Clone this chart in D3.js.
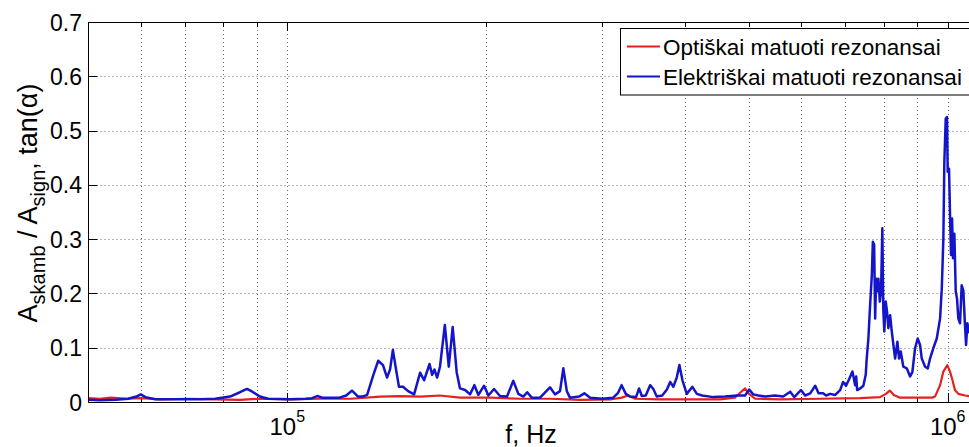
<!DOCTYPE html>
<html>
<head>
<meta charset="utf-8">
<script src="https://cdn.jsdelivr.net/npm/d3@7/dist/d3.min.js"></script>
<style>
  html, body { margin: 0; padding: 0; background: #fff; }
  svg { display: block; }
  text { font-family: "Liberation Sans", Arial, Helvetica, sans-serif; fill: #000; }
</style>
</head>
<body>
<svg id="chart" width="969" height="447"></svg>
<script>
// Optically measured resonances (frequency in kHz, amplitude ratio)
const opticalF = [50, 52, 54.1, 57.2, 59.9, 64.2, 71.2, 77.8, 84.8, 90.9, 101, 112, 124.9, 138.2, 148.2, 158.9,
  170.3, 182.6, 202.8, 225, 250, 277.5, 309.7, 321, 328, 336.3, 366, 406.9, 452.2, 476.2, 486, 493.3, 500.2,
  511.2, 557.4, 641, 737, 790, 806, 817.2, 828.8, 846.9, 907.5, 947, 956.8, 973.8, 985, 998.6, 1008.2,
  1016.4, 1025.6, 1037.7, 1062.4, 1090, 1150];
const opticalV = [0.007, 0.006, 0.008, 0.006, 0.007, 0.005, 0.006, 0.005, 0.004, 0.006, 0.005, 0.006, 0.006,
  0.010, 0.011, 0.010, 0.012, 0.008, 0.008, 0.006, 0.006, 0.004, 0.005, 0.008, 0.012, 0.006, 0.005, 0.005,
  0.005, 0.008, 0.018, 0.025, 0.015, 0.006, 0.005, 0.006, 0.007, 0.009, 0.015, 0.021, 0.013, 0.008, 0.008,
  0.008, 0.010, 0.031, 0.056, 0.068, 0.056, 0.041, 0.022, 0.015, 0.012, 0.010, 0.010];

// Electrically measured resonances (frequency in kHz, tan(alpha))
const electricF = [50, 52, 55, 57.4, 59.1, 60, 61, 63.1, 66.5, 73.8, 77.8, 81.9, 84.8, 86.9, 88.5, 90.9, 93.5,
  101, 106.5, 109, 111, 113, 120, 122.8, 125.3, 128, 130, 132.1, 135, 137.3, 139.6, 141.6, 143.1, 144.5, 146.1,
  147.6, 149.7, 152.4, 155.6, 158.9, 161.1, 164.2, 165.7, 167, 168.6, 170.3, 173.2, 175.6, 178, 180.5, 182.6,
  185.9, 189.1, 192, 194.7, 198.6, 201.6, 205.6, 209.9, 215.1, 219.9, 223.8, 227.7, 230.8, 234.5, 241.4, 249.9,
  254.3, 258.8, 261.8, 265, 267.9, 276.5, 281.7, 287.5, 299.6, 311.5, 316.9, 320.8, 325.5, 330.5, 337.4, 340.9,
  344.2, 349, 354.3, 358.3, 362.6, 369.6, 375.7, 380, 384.2, 388.8, 392.4, 396.6, 402.6, 410.6, 417, 424.7,
  441.3, 460, 479.5, 493.3, 500.6, 507.5, 516.7, 529.4, 547.6, 563.5, 577.5, 585.5, 599.6, 608.3, 619.2, 630.1,
  637.4, 647.6, 654.5, 663.9, 675.6, 687.3, 694.3, 701.5, 709.1, 717.4,
  724.2, 726.8, 729.3, 737, 745.2, 751.4, 754, 758.4, 763, 767.6, 770.3, 773.8, 776.5, 779.2, 782.7,
  785.4, 789.2, 792.7, 796.2, 798.9, 801.7, 805.7, 809.5, 813.2, 818.1, 823, 827.6, 832.5, 839.1, 844,
  848.9, 856.7, 867, 877.1, 884.1, 892.4, 900.6, 908.1, 913.6, 924.2, 933, 940.3, 951, 962.6, 973.8,
  979.6, 985, 988.4, 993.2, 997.6, 1000, 1004.6, 1008.2, 1011.7, 1015.4, 1018.8, 1023.5, 1028.4, 1033.1, 1037.7,
  1043.9, 1050, 1056, 1061.3, 1066.2, 1071, 1077.4, 1090, 1150];
const electricV = [0.004, 0.003, 0.004, 0.006, 0.010, 0.014, 0.009, 0.005, 0.005, 0.005, 0.006, 0.010, 0.018,
  0.024, 0.019, 0.010, 0.006, 0.005, 0.006, 0.007, 0.011, 0.008, 0.008, 0.012, 0.021, 0.010, 0.010, 0.013,
  0.050, 0.076, 0.068, 0.045, 0.060, 0.096, 0.060, 0.028, 0.028, 0.020, 0.014, 0.054, 0.040, 0.070, 0.050,
  0.060, 0.045, 0.065, 0.142, 0.065, 0.138, 0.055, 0.025, 0.022, 0.014, 0.031, 0.013, 0.030, 0.012, 0.024,
  0.011, 0.010, 0.039, 0.015, 0.010, 0.018, 0.008, 0.008, 0.027, 0.014, 0.020, 0.062, 0.020, 0.008, 0.010,
  0.016, 0.008, 0.006, 0.008, 0.017, 0.031, 0.015, 0.010, 0.009, 0.025, 0.011, 0.012, 0.031, 0.024, 0.010,
  0.012, 0.023, 0.037, 0.028, 0.045, 0.068, 0.040, 0.015, 0.028, 0.015, 0.012, 0.009, 0.010, 0.012, 0.012,
  0.023, 0.014, 0.012, 0.010, 0.012, 0.010, 0.019, 0.009, 0.022, 0.012, 0.016, 0.030, 0.016, 0.016, 0.012,
  0.015, 0.013, 0.022, 0.037, 0.030, 0.042, 0.056,
  0.031, 0.047, 0.022, 0.025, 0.030, 0.050, 0.080, 0.117, 0.179, 0.234, 0.295, 0.290, 0.154, 0.227, 0.204,
  0.227, 0.185, 0.204, 0.320, 0.170, 0.130, 0.185, 0.166, 0.136, 0.160, 0.129, 0.105, 0.080, 0.111, 0.080,
  0.093, 0.065, 0.062, 0.047, 0.055, 0.099, 0.117, 0.105, 0.080, 0.065, 0.062, 0.080, 0.099, 0.117, 0.154,
  0.209, 0.301, 0.443, 0.522, 0.525, 0.424, 0.430, 0.344, 0.271, 0.338, 0.265, 0.310, 0.204, 0.190, 0.154,
  0.145, 0.215, 0.205, 0.150, 0.105, 0.145, 0.129, 0.120, 0.120];

const seriesNames = ["Optiškai matuoti rezonansai", "Elektriškai matuoti rezonansai"];
const seriesColors = ["#e3211f", "#1414c8"];
const seriesWidths = [2.2, 2.5];

const yTicks = [0, 0.1, 0.2, 0.3, 0.4, 0.5, 0.6, 0.7];
const yTickLabels = ["0", "0.1", "0.2", "0.3", "0.4", "0.5", "0.6", "0.7"];
const xMajorTicks = [1e5, 1e6];
const xMajorExponents = ["5", "6"];
const xMinorTicks = [6e4, 7e4, 8e4, 9e4, 2e5, 3e5, 4e5, 5e5, 6e5, 7e5, 8e5, 9e5];

const plotLeft = 88.5, plotTop = 22, plotBottom = 402, plotRight = 1010;

const svg = d3.select("#chart");

const x = d3.scaleLog().domain([5e4, 1e6]).range([plotLeft, 947.7]);
const y = d3.scaleLinear().domain([0, 0.7]).range([plotBottom, plotTop]);

// grid (dotted, major and minor x positions)
const grid = svg.append("g").attr("stroke", "#6a6a6a").attr("stroke-width", 1)
  .attr("stroke-dasharray", "1,3").attr("fill", "none");
xMinorTicks.concat(xMajorTicks).forEach(t => {
  const px = Math.round(x(t)) + 0.5;
  grid.append("line").attr("x1", px).attr("x2", px).attr("y1", plotTop).attr("y2", plotBottom);
});
yTicks.slice(1, -1).forEach(t => {
  const py = Math.round(y(t)) + 0.5;
  grid.append("line").attr("x1", plotLeft).attr("x2", plotRight).attr("y1", py).attr("y2", py);
});

// tick marks pointing into the plot
const ticks = svg.append("g").attr("stroke", "#000").attr("stroke-width", 1);
xMinorTicks.forEach(t => {
  const px = Math.round(x(t)) + 0.5;
  ticks.append("line").attr("x1", px).attr("x2", px).attr("y1", plotBottom).attr("y2", plotBottom - 5);
  ticks.append("line").attr("x1", px).attr("x2", px).attr("y1", plotTop).attr("y2", plotTop + 5);
});
xMajorTicks.forEach(t => {
  const px = Math.round(x(t)) + 0.5;
  ticks.append("line").attr("x1", px).attr("x2", px).attr("y1", plotBottom).attr("y2", plotBottom - 9);
  ticks.append("line").attr("x1", px).attr("x2", px).attr("y1", plotTop).attr("y2", plotTop + 9);
});
yTicks.forEach(t => {
  const py = Math.round(y(t)) + 0.5;
  ticks.append("line").attr("x1", plotLeft).attr("x2", plotLeft + 9).attr("y1", py).attr("y2", py);
});

// data lines
svg.append("clipPath").attr("id", "plotClip").append("rect")
  .attr("x", plotLeft).attr("y", plotTop).attr("width", plotRight - plotLeft).attr("height", plotBottom - plotTop);

const line = d3.line().x(d => x(d[0] * 1000)).y(d => y(d[1]));
const series = [
  d3.zip(opticalF, opticalV),
  d3.zip(electricF, electricV)
];
const plot = svg.append("g").attr("clip-path", "url(#plotClip)");
series.forEach((s, i) => {
  plot.append("path").datum(s).attr("d", line)
    .attr("fill", "none").attr("stroke", seriesColors[i]).attr("stroke-width", seriesWidths[i])
    .attr("stroke-linejoin", "round");
});

// axes box (left, bottom, top)
const axes = svg.append("g").attr("stroke", "#000").attr("stroke-width", 1).attr("fill", "none");
axes.append("line").attr("x1", plotLeft).attr("x2", plotLeft).attr("y1", plotTop).attr("y2", plotBottom + 0.5);
axes.append("line").attr("x1", plotLeft).attr("x2", plotRight).attr("y1", plotBottom + 0.5).attr("y2", plotBottom + 0.5);
axes.append("line").attr("x1", plotLeft).attr("x2", plotRight).attr("y1", plotTop + 0.5).attr("y2", plotTop + 0.5);

// y tick labels
yTicks.forEach((t, i) => {
  svg.append("text").attr("x", 82).attr("y", y(t) + 8.5)
    .attr("text-anchor", "end").attr("font-size", 23).text(yTickLabels[i]);
});

// x tick labels as powers of ten
xMajorTicks.forEach((t, i) => {
  const tx = svg.append("text").attr("x", x(t)).attr("y", 435)
    .attr("text-anchor", "middle").attr("font-size", 24);
  tx.append("tspan").text("10");
  tx.append("tspan").attr("font-size", 16).attr("dy", -13).text(xMajorExponents[i]);
});

// axis titles
svg.append("text").attr("x", 531).attr("y", 443).attr("text-anchor", "middle")
  .attr("font-size", 25).text("f, Hz");

const yl = svg.append("text").attr("transform", "translate(37,203) rotate(-90)")
  .attr("text-anchor", "middle").attr("font-size", 27);
yl.append("tspan").text("A");
yl.append("tspan").attr("font-size", 20).attr("dy", 8).text("skamb");
yl.append("tspan").attr("dy", -8).text(" / A");
yl.append("tspan").attr("font-size", 20).attr("dy", 8).text("sign");
yl.append("tspan").attr("dy", -8).text(", tan(α)");

// legend
const lg = svg.append("g");
lg.append("rect").attr("x", 620.5).attr("y", 28.5).attr("width", 400).attr("height", 66.5)
  .attr("fill", "#fff").attr("stroke", "#000").attr("stroke-width", 1);
seriesNames.forEach((name, i) => {
  const cy = 46.5 + i * 30;
  lg.append("line").attr("x1", 627).attr("x2", 660).attr("y1", cy).attr("y2", cy)
    .attr("stroke", seriesColors[i]).attr("stroke-width", 2);
  lg.append("text").attr("x", 663).attr("y", cy + 8).attr("font-size", 22.5).text(name);
});
</script>
</body>
</html>
